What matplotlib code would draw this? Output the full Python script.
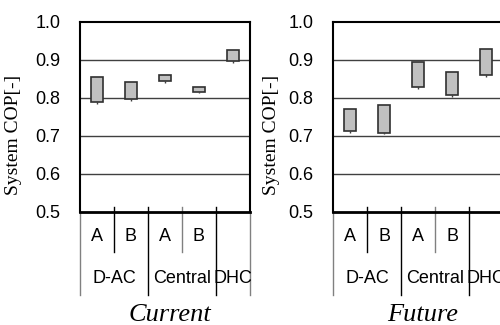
import matplotlib
matplotlib.use("Agg")
import matplotlib.pyplot as plt
from matplotlib.transforms import Bbox, TransformedBbox

# ---- data ----
sub_labels = ["A", "B", "A", "B", ""]
group_labels = ["D-AC", "Central", "DHC"]
group_centers = [0.5, 2.5, 4.0]
panel_titles = ["Current", "Future"]
y_ticks = [0.5, 0.6, 0.7, 0.8, 0.9, 1.0]
y_ticklabels = ["0.5", "0.6", "0.7", "0.8", "0.9", "1.0"]

current_low = [0.783, 0.792, 0.840, 0.812, 0.892]
current_bottom = [0.789, 0.797, 0.844, 0.816, 0.897]
current_top = [0.856, 0.843, 0.861, 0.830, 0.925]

future_low = [0.707, 0.704, 0.825, 0.802, 0.855]
future_bottom = [0.713, 0.709, 0.830, 0.807, 0.861]
future_top = [0.771, 0.781, 0.896, 0.869, 0.928]

panels = [
    (panel_titles[0], current_low, current_bottom, current_top),
    (panel_titles[1], future_low, future_bottom, future_top),
]

fig = plt.figure(figsize=(5.0, 3.25), dpi=100)
W, H = 500.0, 325.0
positions = [(80, 22, 170, 190), (333, 22, 170, 190)]
ylabel_x = [-0.34, -0.31]

sans = "Liberation Sans"
serif = "Liberation Serif"

for i, (title, low, bot, top) in enumerate(panels):
    px, py, pw, ph = positions[i]
    ax = fig.add_axes([px / W, 1 - (py + ph) / H, pw / W, ph / H])
    xs = list(range(len(sub_labels)))
    ax.set_xlim(-0.5, len(sub_labels) - 0.5)
    ax.set_ylim(0.5, 1.0)

    for g in [0.6, 0.7, 0.8, 0.9]:
        ax.axhline(g, color="#404040", lw=1.0, zorder=1)

    heights = [t - b for t, b in zip(top, bot)]
    ax.vlines(xs, low, bot, color="#404040", lw=1.0, zorder=2)
    ax.bar(xs, heights, bottom=bot, width=0.38, color="#c0c0c0",
           edgecolor="#303030", linewidth=1.2, zorder=3)

    ax.set_yticks(y_ticks)
    ax.set_yticklabels(y_ticklabels, fontfamily=sans, fontsize=13)
    ax.tick_params(axis="y", length=0, pad=14)
    ax.set_xticks([])

    for side in ["left", "top", "right"]:
        ax.spines[side].set_color("black")
        ax.spines[side].set_linewidth(1.5)
    ax.spines["bottom"].set_color("black")
    ax.spines["bottom"].set_linewidth(2.0)

    ax.set_ylabel("System COP[-]", fontfamily=serif, fontsize=14)
    ax.yaxis.set_label_coords(ylabel_x[i], 0.405)

    tr = ax.get_xaxis_transform()
    # category separator lines
    seps = [(-0.5, 0.0, -0.437, "#808080"), (0.5, 0.026, -0.21, "black"),
            (1.5, 0.026, -0.437, "black"), (2.5, 0.026, -0.21, "#808080"),
            (3.5, 0.026, -0.437, "black"), (4.5, 0.0, -0.437, "#808080")]
    for x, y0, y1, c in seps:
        ax.plot([x, x], [y0, y1], color=c, lw=1.0, transform=tr, clip_on=False)

    for x, lab in zip(xs, sub_labels):
        if lab:
            ax.text(x, -0.13, lab, transform=tr, ha="center", va="center",
                    fontfamily=sans, fontsize=13)
    clip = TransformedBbox(Bbox([[0, 0], [(250.5 if i == 0 else 500) / W, 1]]),
                           fig.transFigure)
    for gx, glab in zip(group_centers, group_labels):
        t = ax.text(gx, -0.35, glab, transform=tr, ha="center", va="center",
                    fontfamily=sans, fontsize=13)
        t.set_clip_on(True)
        t.set_clip_box(clip)

    ax.text(0.53, -0.54, title, transform=ax.transAxes, ha="center",
            va="center", fontfamily=serif, fontstyle="italic", fontsize=19)

fig.savefig("out.png", dpi=100, facecolor="white")
